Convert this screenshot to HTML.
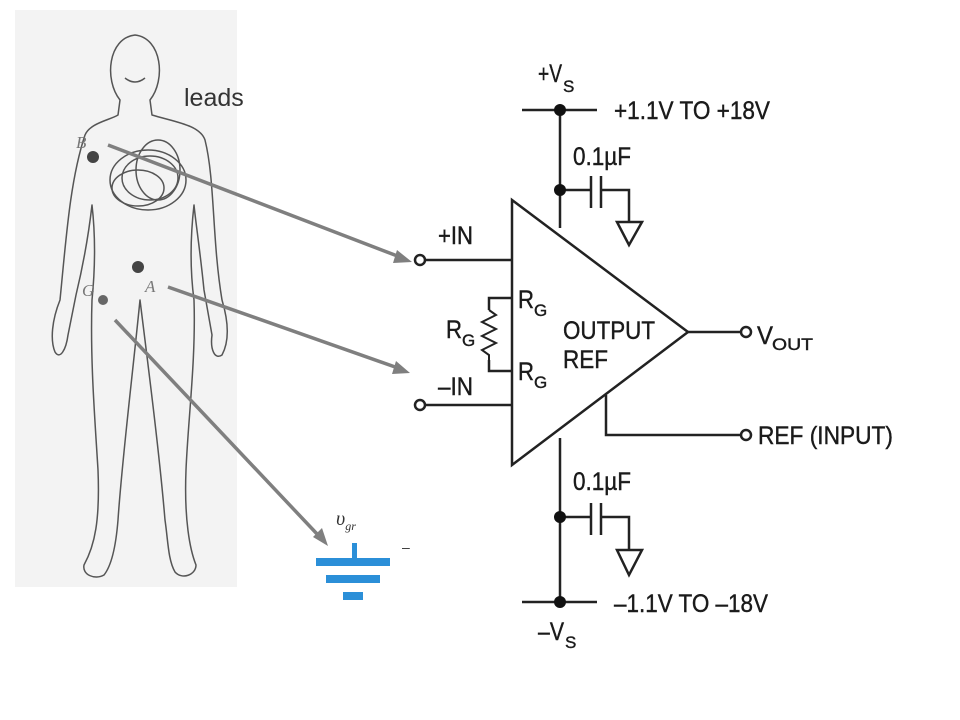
<!DOCTYPE html>
<html><head><meta charset="utf-8"><style>
html,body{margin:0;padding:0;background:#fff;width:960px;height:720px;overflow:hidden}
svg{display:block}
.c{font-family:"Liberation Sans",sans-serif;font-size:25px;fill:#1a1a1a;stroke:#1a1a1a;stroke-width:0.4}
</style></head><body>
<svg width="960" height="720" viewBox="0 0 960 720" xmlns="http://www.w3.org/2000/svg">
<rect x="15" y="10" width="222" height="577" fill="#f3f3f3"/>
<g fill="none" stroke="#555" stroke-width="1.5" stroke-linejoin="round">
<path d="M120,100 C104,80 108,38 135,35 C162,38 166,80 150,100 L152,115 C175,122 200,125 205,140 C215,180 212,240 222,300 C228,320 230,340 222,355 C215,360 210,350 212,335 L204,290 C200,250 196,225 194,205 C190,240 190,270 194,300 C196,360 188,420 186,470 C184,520 190,550 196,565 C196,575 182,580 175,572 C168,560 168,540 165,520 C160,460 150,380 140,300 C132,380 122,460 118,520 C116,545 112,565 104,575 C95,580 82,575 84,565 C95,545 100,520 98,470 C95,420 90,360 92,300 C95,270 96,240 92,205 C88,240 82,270 76,295 L68,335 C66,350 60,360 55,352 C50,340 52,320 60,300 C66,240 70,180 85,135 C90,123 110,120 118,115 Z"/>
<ellipse cx="148" cy="180" rx="38" ry="30"/>
<ellipse cx="150" cy="178" rx="28" ry="22"/>
<ellipse cx="158" cy="170" rx="22" ry="30"/>
<ellipse cx="138" cy="188" rx="26" ry="18"/>
<path d="M125,78 Q135,86 145,78"/>
</g>
<circle cx="93" cy="157" r="6" fill="#444"/>
<circle cx="138" cy="267" r="6" fill="#444"/>
<circle cx="103" cy="300" r="5" fill="#666"/>
<g font-family="Liberation Serif,serif" font-style="italic" font-size="17" fill="#777">
<text x="76" y="148">B</text><text x="145" y="292">A</text><text x="82" y="296">G</text>
</g>
<text x="184" y="106" font-family="Liberation Sans,sans-serif" font-size="25" fill="#333">leads</text>
<g stroke="#7f7f7f" stroke-width="3.5" fill="#7f7f7f">
<line x1="108" y1="145" x2="400" y2="257"/>
<polygon points="412,262 397,250 393,263" stroke="none"/>
<line x1="168" y1="287" x2="398" y2="368"/>
<polygon points="410,373 396,361 392,374" stroke="none"/>
<line x1="115" y1="320" x2="318" y2="535"/>
<polygon points="328,546 313,537 322,528" stroke="none"/>
</g>
<text x="336" y="525" font-family="Liberation Serif,serif" font-style="italic" font-size="20" fill="#333">υ<tspan font-size="12" dy="5">gr</tspan></text>
<text x="402" y="552" font-family="Liberation Sans,sans-serif" font-size="14" fill="#333">–</text>
<g fill="#2b8fd8">
<rect x="352" y="543" width="5" height="16"/>
<rect x="316" y="558" width="74" height="8"/>
<rect x="326" y="575" width="54" height="8"/>
<rect x="343" y="592" width="20" height="8"/>
</g>
<g stroke="#222" stroke-width="2.5" fill="none">
<polygon points="512,200 512,465 688,332"/>
<line x1="426" y1="260" x2="512" y2="260"/>
<line x1="426" y1="405" x2="512" y2="405"/>
<circle cx="420" cy="260" r="5" fill="#fff"/>
<circle cx="420" cy="405" r="5" fill="#fff"/>
<polyline points="512,298 489,298 489,310"/>
<polyline points="489,360 489,371 512,371"/>
<polyline stroke-width="2" points="489,310 496,315 482,322 496,329 482,336 496,343 482,350 489,355 489,360"/>
<line x1="688" y1="332" x2="740" y2="332"/>
<circle cx="746" cy="332" r="5" fill="#fff"/>
<polyline points="606,395 606,435 740,435"/>
<circle cx="746" cy="435" r="5" fill="#fff"/>
<line x1="522" y1="110" x2="597" y2="110"/>
<line x1="560" y1="110" x2="560" y2="228"/>
<line x1="560" y1="190" x2="591" y2="190"/>
<line x1="591" y1="176" x2="591" y2="208"/><line x1="601" y1="176" x2="601" y2="208"/>
<polyline points="601,190 629,190 629,222"/>
<polygon points="617,222 642,222 629,245"/>
<line x1="560" y1="438" x2="560" y2="602"/>
<line x1="522" y1="602" x2="597" y2="602"/>
<line x1="560" y1="517" x2="591" y2="517"/>
<line x1="591" y1="503" x2="591" y2="535"/><line x1="601" y1="503" x2="601" y2="535"/>
<polyline points="601,517 629,517 629,550"/>
<polygon points="617,550 642,550 629,575"/>
</g>
<g fill="#111"><circle cx="560" cy="110" r="6"/><circle cx="560" cy="190" r="6"/><circle cx="560" cy="517" r="6"/><circle cx="560" cy="602" r="6"/></g>
<g class="c">
<text x="538" y="82" textLength="24" lengthAdjust="spacingAndGlyphs">+V</text><text x="563" y="92" font-size="17">S</text>
<text x="614" y="119" textLength="156" lengthAdjust="spacingAndGlyphs">+1.1V TO +18V</text>
<text x="573" y="165" textLength="58" lengthAdjust="spacingAndGlyphs">0.1µF</text>
<text x="438" y="244" textLength="35" lengthAdjust="spacingAndGlyphs">+IN</text>
<text x="438" y="395" textLength="35" lengthAdjust="spacingAndGlyphs">–IN</text>
<text x="446" y="338" textLength="16" lengthAdjust="spacingAndGlyphs">R</text><text x="462" y="346" font-size="17">G</text>
<text x="518" y="308" textLength="16" lengthAdjust="spacingAndGlyphs">R</text><text x="534" y="316" font-size="17">G</text>
<text x="518" y="380" textLength="16" lengthAdjust="spacingAndGlyphs">R</text><text x="534" y="388" font-size="17">G</text>
<text x="563" y="339" textLength="92" lengthAdjust="spacingAndGlyphs">OUTPUT</text>
<text x="563" y="368" textLength="45" lengthAdjust="spacingAndGlyphs">REF</text>
<text x="757" y="344" textLength="16" lengthAdjust="spacingAndGlyphs">V</text><text x="772" y="350" font-size="17" textLength="41" lengthAdjust="spacingAndGlyphs">OUT</text>
<text x="758" y="444" textLength="135" lengthAdjust="spacingAndGlyphs">REF (INPUT)</text>
<text x="573" y="490" textLength="58" lengthAdjust="spacingAndGlyphs">0.1µF</text>
<text x="614" y="612" textLength="154" lengthAdjust="spacingAndGlyphs">–1.1V TO –18V</text>
<text x="538" y="640" textLength="26" lengthAdjust="spacingAndGlyphs">–V</text><text x="565" y="648" font-size="17">S</text>
</g>
</svg>
</body></html>
